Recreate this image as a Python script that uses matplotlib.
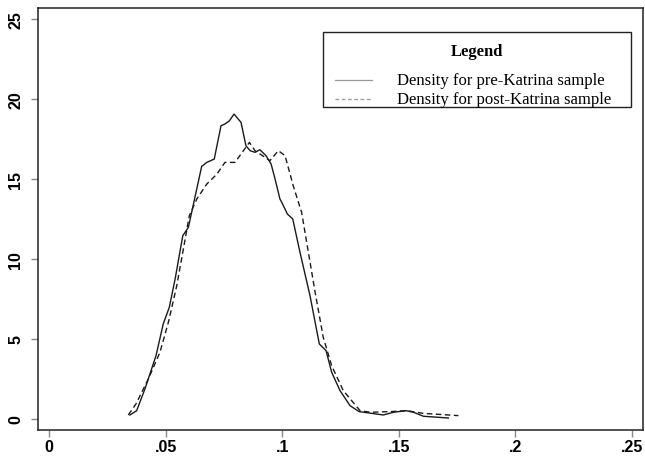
"""Kernel density of pre- vs post-Katrina samples."""

import matplotlib
matplotlib.use("Agg")
import matplotlib.pyplot as plt
from matplotlib.lines import Line2D
from matplotlib.patches import Rectangle

# Density (x = value, y = density)
pre_x = [0.0346, 0.0375, 0.0411, 0.0458, 0.0489, 0.0515, 0.054, 0.0573, 0.0597,
         0.0654, 0.0676, 0.0708, 0.0737, 0.0754, 0.0773, 0.0793, 0.0823, 0.0844,
         0.0862, 0.0883, 0.0904, 0.093, 0.0952, 0.0969, 0.099, 0.0998, 0.1022,
         0.1045, 0.1076, 0.1119, 0.1159, 0.1188, 0.1212, 0.1248, 0.1291, 0.133,
         0.1434, 0.1477, 0.1531, 0.1563, 0.1606, 0.1713]
pre_y = [0.25, 0.52, 1.9, 3.96, 5.94, 6.98, 8.75, 11.46, 11.98,
         15.79, 16.04, 16.25, 18.33, 18.44, 18.64, 19.06, 18.54, 17.08,
         16.77, 16.67, 16.83, 16.46, 15.94, 15.0, 13.75, 13.54, 12.81,
         12.5, 10.42, 7.71, 4.69, 4.27, 2.92, 1.77, 0.83, 0.46,
         0.25, 0.42, 0.52, 0.42, 0.17, 0.06]

post_x = [0.0339, 0.0372, 0.0425, 0.0475, 0.0511, 0.0547, 0.0578, 0.0601, 0.0633,
          0.0676, 0.0719, 0.0754, 0.0797, 0.0859, 0.0883, 0.0947, 0.0983, 0.1012,
          0.1047, 0.1083, 0.1112, 0.1141, 0.1176, 0.1212, 0.1262, 0.1334, 0.1377,
          0.1463, 0.1534, 0.1606, 0.1756]
post_y = [0.25, 0.94, 2.5, 4.17, 6.04, 8.33, 10.83, 12.71, 13.75,
          14.69, 15.3, 16.04, 16.04, 17.29, 16.77, 16.15, 16.77, 16.46,
          14.58, 12.92, 10.42, 7.92, 5.1, 3.33, 1.77, 0.52, 0.42,
          0.46, 0.52, 0.35, 0.21]

x_ticks = [0, 0.05, 0.1, 0.15, 0.2, 0.25]
x_labels = ["0", ".05", ".1", ".15", ".2", ".25"]
y_ticks = [0, 5, 10, 15, 20, 25]
labels = ["Density for pre-Katrina sample", "Density for post-Katrina sample"]

W, H = 645, 460
fig = plt.figure(figsize=(W / 100, H / 100), dpi=100)
ax = fig.add_axes([0.0594, 0.0637, 0.937, 0.916])

ax.plot(pre_x, pre_y, color="#1a1a1a", lw=1.0)
ax.plot(post_x, post_y, color="#1a1a1a", lw=1.0, dashes=(4, 2.5))

ax.set_xlim(-0.00472, 0.2547)
ax.set_ylim(-0.67, 25.67)
ax.set_xticks(x_ticks, x_labels)
ax.set_yticks(y_ticks, [str(t) for t in y_ticks])

tick_font = {"family": "Liberation Sans", "weight": "bold", "size": 11.5}
for lab in ax.get_xticklabels():
    lab.set_fontproperties(tick_font)
for lab in ax.get_yticklabels():
    lab.set_fontproperties(tick_font)
    lab.set_rotation(90)
    lab.set_va("center")

ax.tick_params(axis="both", direction="out", length=5, width=1, color="#888888")
ax.tick_params(axis="y", pad=6)
ax.tick_params(axis="x", pad=2)
for sp in ax.spines.values():
    sp.set_linewidth(1.1)
    sp.set_color("#222222")


# Legend box drawn by hand (Stata-style: title, then rows spaced apart)
def fx(px):
    return px / W


def fy(py):
    return 1 - py / H


serif = {"family": "Liberation Serif", "size": 12}
fig.patches.append(Rectangle((fx(322.7), fy(107.7)), fx(631) - fx(322.7),
                             fy(33.3) - fy(107.7), transform=fig.transFigure,
                             fill=False, edgecolor="#222222", lw=1.0))
fig.text(fx(476.7), fy(51.7), "Legend", ha="center", va="center",
         fontdict={**serif, "weight": "bold"})
styles = [{}, {"dashes": (3, 2)}]
for i, (lab, st) in enumerate(zip(labels, styles)):
    row_y = fy(81 + 19 * i)
    fig.lines.append(Line2D([fx(335), fx(371.7)], [row_y, row_y],
                            transform=fig.transFigure, color="#999999", lw=0.9, **st))
    fig.text(fx(396.7), row_y, lab, ha="left", va="center", fontdict=serif)

fig.savefig("out.png", dpi=100)
